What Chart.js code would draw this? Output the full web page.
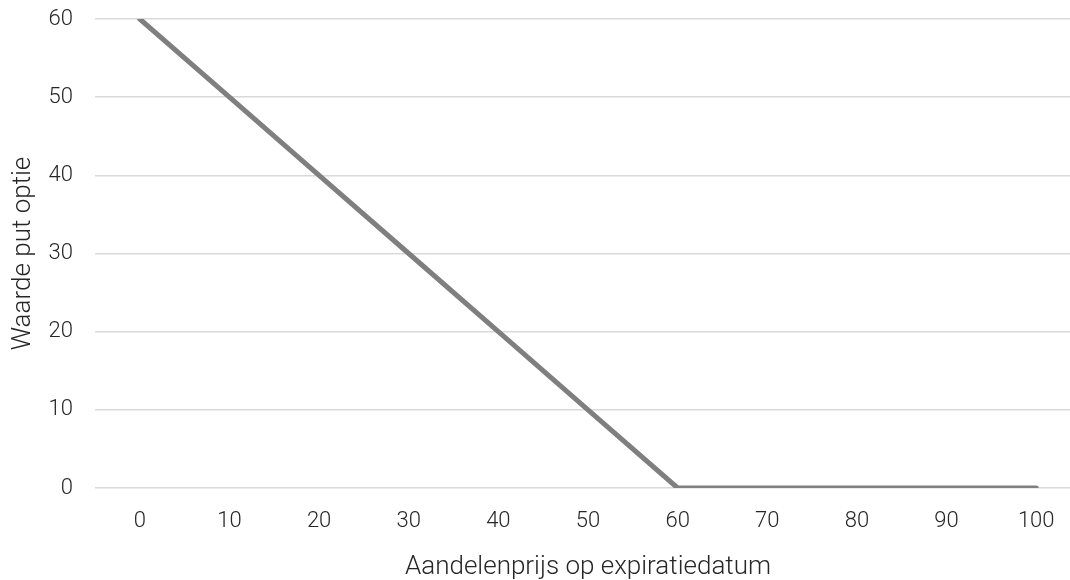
<!DOCTYPE html>
<html>
<head>
<meta charset="utf-8">
<script src="https://cdn.jsdelivr.net/npm/chart.js@4"></script>
<style>
  html, body { margin: 0; padding: 0; background: #fff; overflow: hidden; }
  #wrap { width: 1081px; height: 580px; }
</style>
</head>
<body>
<div id="wrap"><canvas id="putChart" width="1081" height="580"></canvas></div>
<script>
// Stock price at expiry (categories) and put option value
const prices = ["0", "10", "20", "30", "40", "50", "60", "70", "80", "90", "100"]
const putValues = [60, 50, 40, 30, 20, 10, 0, 0, 0, 0, 0]
const yTicks = [0, 10, 20, 30, 40, 50, 60]

const textColor = "#262626"
const fontFamily = "Roboto, 'Open Sans', sans-serif"

const config = {
  type: "line",
  data: {
    labels: prices,
    datasets: [
      {
        label: "Waarde put optie",
        data: putValues,
        borderColor: "#7f7f7f",
        borderWidth: 5,
        borderCapStyle: "round",
        pointRadius: 0,
        tension: 0,
        fill: false,
      },
    ],
  },
  options: {
    responsive: false,
    animation: false,
    layout: { padding: { top: 19, right: 0, left: 0, bottom: 0 } },
    plugins: {
      legend: { display: false },
      tooltip: { enabled: false },
    },
    scales: {
      x: {
        type: "category",
        offset: true,
        grid: { display: false, drawTicks: false },
        border: { display: false },
        ticks: {
          color: textColor,
          padding: 20,
          maxRotation: 0,
          font: { family: fontFamily, size: 22, weight: 300 },
        },
        title: {
          display: true,
          text: "Aandelenprijs op expiratiedatum",
          color: textColor,
          font: { family: fontFamily, size: 26, weight: 300, lineHeight: 0.95 },
          padding: { top: 0, bottom: 0 },
        },
        afterFit: scale => {
          scale.height = 92
        },
      },
      y: {
        min: 0,
        max: 60,
        afterBuildTicks: scale => {
          scale.ticks = yTicks.map(v => ({ value: v }))
        },
        grid: { color: "#d9d9d9", lineWidth: 1.5, drawTicks: false },
        border: { display: false },
        ticks: {
          color: textColor,
          padding: 22,
          font: { family: fontFamily, size: 22, weight: 300 },
        },
        title: {
          display: true,
          text: "Waarde put optie",
          color: textColor,
          font: { family: fontFamily, size: 26, weight: 300 },
          padding: { top: 8, bottom: 0 },
        },
        afterFit: scale => {
          scale.width = 95
          scale.paddingTop = 0
          scale.paddingBottom = 0
        },
      },
    },
  },
}

new Chart(document.getElementById("putChart"), config)
</script>
</body>
</html>
